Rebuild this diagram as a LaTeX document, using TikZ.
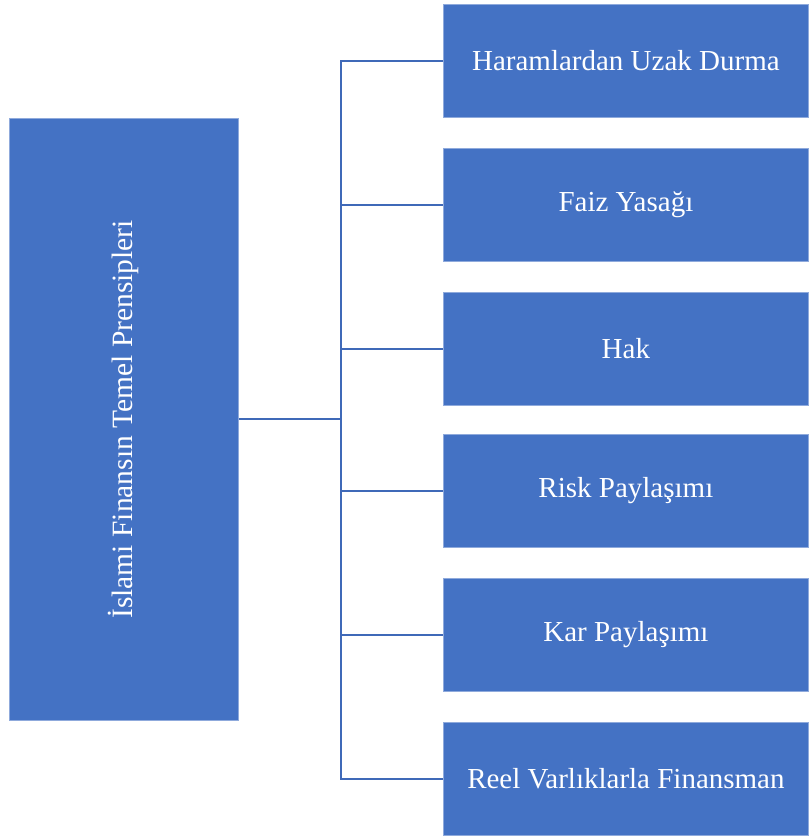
\documentclass[tikz,border=0pt]{standalone}
\usepackage{fontspec}
\setmainfont{Liberation Serif}
\definecolor{boxblue}{HTML}{4472C4}
\definecolor{lineblue}{HTML}{3F69B8}
\begin{document}
\begin{tikzpicture}[x=1pt,y=-1pt,
  bluebox/.style={fill=boxblue,draw=boxblue!60!white,line width=0.8pt,text=white,font=\fontsize{29}{34}\selectfont,inner sep=0pt},
  conn/.style={draw=lineblue,line width=2.2pt}]
\useasboundingbox (0,0) rectangle (809,836);
\node[bluebox,minimum width=229,minimum height=602,anchor=north west] (L) at (9,118) {};
\node[rotate=90,text=white,font=\fontsize{29.5}{34}\selectfont] (Lt) at (L.center) {İslami Finansın Temel Prensipleri};
\foreach \i/\y/\t in {1/4/Haramlardan Uzak Durma,2/148/Faiz Yasağı,3/292/Hak,4/434/Risk Paylaşımı,5/578/Kar Paylaşımı,6/722/Reel Varlıklarla Finansman}{
  \node[bluebox,minimum width=365,minimum height=113,anchor=north west] (R\i) at (443,\y) {\t};
}
\coordinate (J) at (341,419);
\draw[conn] (L.east |- J) -- (J);
\draw[conn] (R1.west) -- (341,0 |- R1.west) -- (341,0 |- R6.west) -- (R6.west);
\foreach \i in {2,3,4,5}{\draw[conn] (341,0 |- R\i.west) -- (R\i.west);}
\end{tikzpicture}
\end{document}
